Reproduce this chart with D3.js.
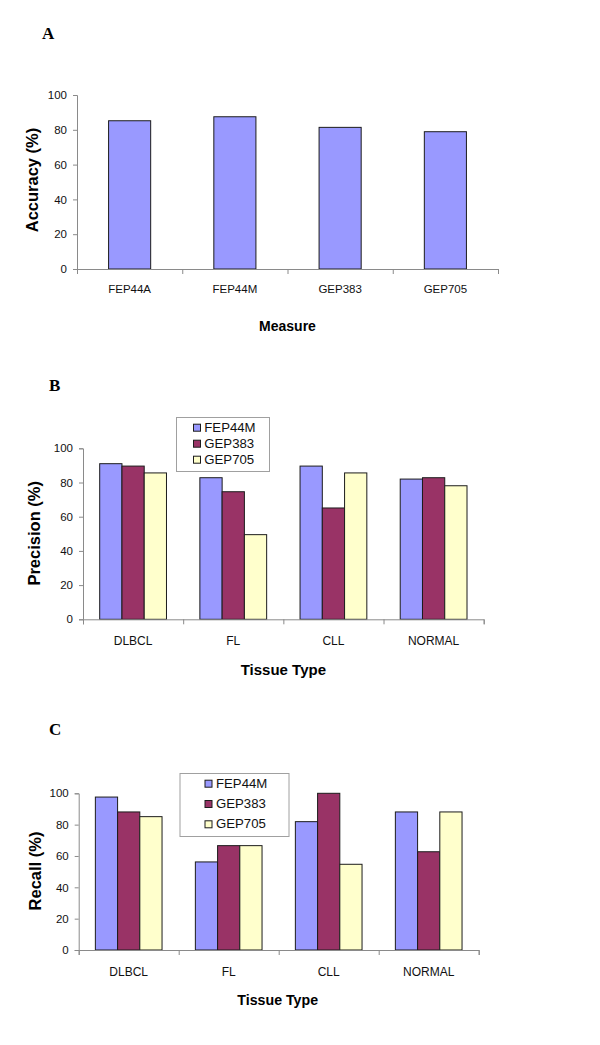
<!DOCTYPE html>
<html><head><meta charset="utf-8">
<script src="https://cdn.jsdelivr.net/npm/d3@7"></script>
<style>body{margin:0;background:#fff}</style>
</head><body><svg id="c" width="600" height="1045"></svg>
<script>
const measures = ["FEP44A", "FEP44M", "GEP383", "GEP705"];
const accuracy = [85.2, 87.5, 81.4, 78.9];
const tissues = ["DLBCL", "FL", "CLL", "NORMAL"];
const seriesNames = ["FEP44M", "GEP383", "GEP705"];
const precisionFEP44M = [91.0, 82.8, 89.6, 82.0];
const precisionGEP383 = [89.6, 74.6, 65.1, 82.8];
const precisionGEP705 = [85.6, 49.5, 85.6, 78.1];
const recallFEP44M = [97.6, 56.2, 81.9, 88.1];
const recallGEP383 = [88.1, 66.6, 100, 62.7];
const recallGEP705 = [85.1, 66.6, 54.7, 88.1];
const yTicks = [0, 20, 40, 60, 80, 100];
const colors = ["#9999FF", "#993366", "#FFFFCC"];

const svg = d3.select("#c");
const AX = "#8a8a8a";

function panel(o) {
  const g = svg.append("g");
  const x = d3.scaleBand().domain(o.cats).range([o.x0, o.x1]).paddingInner(o.pi).paddingOuter(o.po);
  const xs = d3.scaleBand().domain(d3.range(o.series.length)).range([0, x.bandwidth()]);
  const y = d3.scaleLinear().domain([0, 100]).range([o.y0, o.y1]);

  // panel letter
  g.append("text").attr("x", o.letterX).attr("y", o.letterY)
    .attr("font-family", "'Liberation Serif','Times New Roman',serif").attr("font-weight", "bold")
    .attr("font-size", 17).text(o.letter);

  // y axis
  const ya = g.append("g").attr("transform", `translate(${o.x0},0)`)
    .call(d3.axisLeft(y).tickValues(yTicks).tickSize(4).tickPadding(6));
  ya.selectAll("path,line").attr("stroke", AX);
  ya.selectAll("text").attr("font-family", "'Liberation Sans',Arial,sans-serif").attr("font-size", 11.5).attr("fill", "#111");

  // bars
  o.series.forEach((vals, si) => {
    g.selectAll(null).data(vals).join("rect")
      .attr("x", (d, i) => x(o.cats[i]) + xs(si))
      .attr("y", d => y(d))
      .attr("width", xs.bandwidth())
      .attr("height", d => y(0) - y(d))
      .attr("fill", o.colors[si])
      .attr("stroke", "#1c1c1c").attr("stroke-width", 1);
  });

  // x axis line with boundary ticks
  const bounds = o.cats.map(c => x(c) - x.step() * o.pi / 2).concat([o.x1]);
  const xb = d3.scaleLinear().domain([o.x0, o.x1]).range([o.x0, o.x1]);
  const xa = g.append("g").attr("transform", `translate(0,${o.y0})`)
    .call(d3.axisBottom(xb).tickValues(bounds).tickSize(5).tickSizeOuter(5).tickFormat(""));
  xa.selectAll("path,line").attr("stroke", AX);

  // category labels
  g.selectAll(null).data(o.cats).join("text")
    .attr("x", c => x(c) + x.bandwidth() / 2).attr("y", o.y0 + o.labDy)
    .attr("text-anchor", "middle")
    .attr("font-family", "'Liberation Sans',Arial,sans-serif").attr("font-size", o.catSize)
    .attr("fill", "#111").text(c => c);

  // axis titles
  g.append("text").attr("x", (o.x0 + o.x1) / 2 + o.xtDx).attr("y", o.xtY)
    .attr("text-anchor", "middle").attr("font-family", "'Liberation Sans',Arial,sans-serif")
    .attr("font-weight", "bold").attr("font-size", o.xtSize).text(o.xTitle);
  g.append("text").attr("transform", `translate(${o.ytX},${o.ytY}) rotate(-90)`)
    .attr("text-anchor", "middle").attr("font-family", "'Liberation Sans',Arial,sans-serif")
    .attr("font-weight", "bold").attr("font-size", o.ytSize).text(o.yTitle);

  // legend
  if (o.legend) {
    const L = o.legend;
    const lg = g.append("g");
    lg.append("rect").attr("x", L.x + 0.5).attr("y", L.y + 0.5).attr("width", L.w).attr("height", L.h)
      .attr("fill", "#fff").attr("stroke", "#a0a0a0");
    o.names.forEach((n, i) => {
      const by = L.firstBase + i * L.step;
      lg.append("rect").attr("x", L.sx + 0.5).attr("y", by - 7.5).attr("width", 7).attr("height", 7)
        .attr("fill", o.colors[i]).attr("stroke", "#1c1c1c");
      lg.append("text").attr("x", L.tx).attr("y", by)
        .attr("font-family", "'Liberation Sans',Arial,sans-serif").attr("font-size", 13.2)
        .attr("fill", "#111").text(n);
    });
  }
}

panel({
  cats: measures, series: [accuracy], colors: [colors[0]],
  x0: 77, x1: 498, y0: 269, y1: 95, pi: 0.6, po: 0.3,
  letter: "A", letterX: 42, letterY: 39,
  labDy: 24, catSize: 11.5,
  xTitle: "Measure", xtY: 331, xtSize: 14, xtDx: 0,
  yTitle: "Accuracy (%)", ytX: 37.5, ytY: 180, ytSize: 16.5
});

panel({
  cats: tissues, series: [precisionFEP44M, precisionGEP383, precisionGEP705], colors: colors, names: seriesNames,
  x0: 83, x1: 483.7, y0: 619.3, y1: 448.3, pi: 1 / 3, po: 1 / 6,
  letter: "B", letterX: 49, letterY: 391,
  labDy: 26, catSize: 12,
  xTitle: "Tissue Type", xtY: 674.5, xtSize: 15, xtDx: 0,
  yTitle: "Precision (%)", ytX: 40, ytY: 533.3, ytSize: 16.5,
  legend: { x: 176, y: 417, w: 93, h: 54, sx: 193, tx: 204.3, firstBase: 431.7, step: 16 }
});

panel({
  cats: tissues, series: [recallFEP44M, recallGEP383, recallGEP705], colors: colors, names: seriesNames,
  x0: 78.7, x1: 478.7, y0: 950, y1: 793.3, pi: 1 / 3, po: 1 / 6,
  letter: "C", letterX: 49, letterY: 735,
  labDy: 26, catSize: 12,
  xTitle: "Tissue Type", xtY: 1005, xtSize: 14.2, xtDx: -1,
  yTitle: "Recall (%)", ytX: 40.5, ytY: 871, ytSize: 16.5,
  legend: { x: 179.5, y: 773, w: 109, h: 63, sx: 204.5, tx: 216, firstBase: 787.7, step: 20.3 }
});
</script></body></html>
